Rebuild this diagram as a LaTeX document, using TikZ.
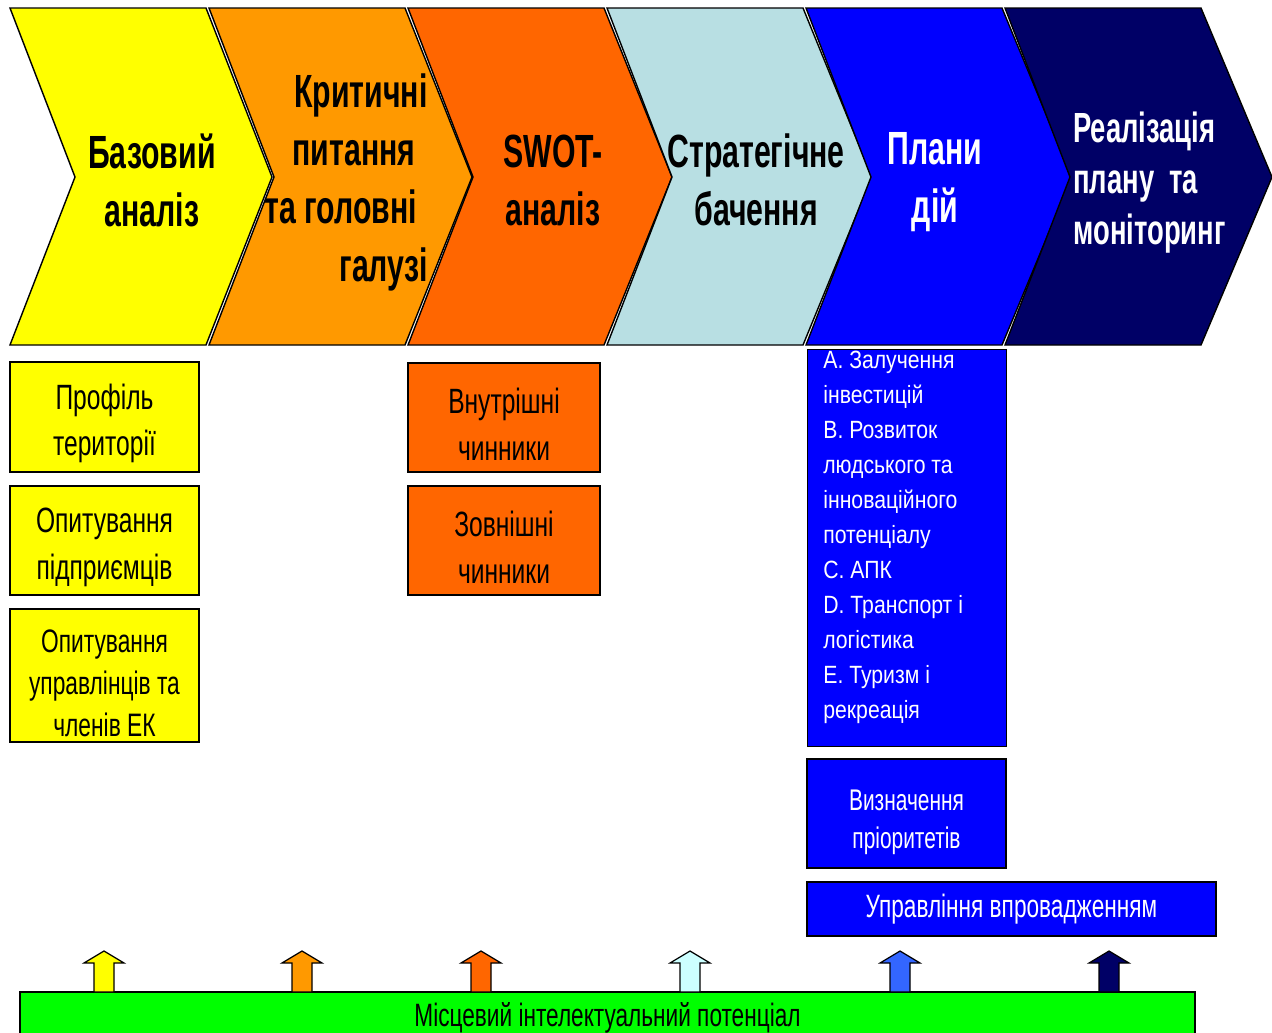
\documentclass[tikz,border=0pt]{standalone}
\usepackage{fontspec}
\setmainfont{Liberation Sans}[FakeStretch=0.7]
\newfontfamily\headfont{Liberation Sans}[FakeStretch=0.65]
\newfontfamily\listfont{Liberation Sans}[FakeStretch=0.85]
\usepackage{tikz}
\usepackage{xcolor}
\definecolor{cyellow}{HTML}{FFFF00}
\definecolor{corange}{HTML}{FF9900}
\definecolor{cred}{HTML}{FF6600}
\definecolor{cpale}{HTML}{B8DFE3}
\definecolor{cblue}{HTML}{0000FF}
\definecolor{cnavy}{HTML}{000066}
\definecolor{cgreen}{HTML}{00FF00}
\definecolor{cicy}{HTML}{CCFFFF}
\definecolor{csky}{HTML}{3366FF}
\newcommand\topgap{\rule{0pt}{22pt}}

\tikzset{
  chev/.style={draw=black, line width=0.8pt},
  head/.style={font=\headfont\bfseries\fontsize{26.5}{33}\selectfont, inner sep=0},
  box/.style={draw=black, line width=0.8pt, inner sep=0, align=center,
    font=\fontsize{20}{26.5}\selectfont},
  upar/.style={draw=black, line width=0.7pt},
}

\begin{document}
\begin{tikzpicture}[x=0.02cm, y=-0.02cm]
      \clip (0,0) rectangle (1272,1032);
      % chevrons
      \foreach \i/\c in {0/cyellow, 1/corange, 2/cred, 3/cpale, 4/cblue, 5/cnavy} {
        \draw[chev, fill=\c] ({10+199*\i}, 8) -- ++(196, 0) -- ++({66+\i}, 169)
          -- ++({-66-\i}, 168) -- ++(-196, 0) -- ++(65, -168) -- cycle;
      }
      \node[head, align=center] (base) at (152, 180) {Базовий\\аналіз};
      \node[head, align=right, anchor=east] (crit) at (428, 182)
        {Критичні\\питання\makebox[7pt]{}\\та головні\makebox[6pt]{}\\галузі};
      \node[head, align=center] (swot) at (553, 180) {SWOT-\\аналіз};
      \node[head, align=center] (vision) at (756, 180) {Стратегічне\\бачення};
      \node[head, align=center, text=white] (plans) at (935, 182) {Плани\\дій};
      \node[head, align=left, anchor=west, text=white,
        font=\headfont\bfseries\fontsize{24}{29}\selectfont] (impl) at (1073, 183)
        {Реалізація\\плану~~та\\моніторинг};
      % boxes under the chevrons
      \node[box, fill=cyellow, minimum width=3.78cm, minimum height=2.2cm] (prof)
        at (104.5, 417) {\topgap Профіль\\території};
      \node[box, fill=cyellow, minimum width=3.78cm, minimum height=2.18cm] (surv)
        at (104.5, 540.5) {\topgap Опитування\\підприємців};
      \node[box, fill=cyellow, minimum width=3.78cm, minimum height=2.66cm,
        font=\fontsize{18.5}{24}\selectfont] (mgrs)
        at (104.5, 675.5) {\topgap Опитування\\управлінців та\\членів ЕК};
      \node[box, fill=cred, minimum width=3.84cm, minimum height=2.18cm] (inner)
        at (504, 417.5) {\topgap Внутрішні\\чинники};
      \node[box, fill=cred, minimum width=3.84cm, minimum height=2.18cm] (outer)
        at (504, 540.5) {\topgap Зовнішні\\чинники};
      \node[box, fill=cblue, anchor=north west, minimum width=3.98cm,
        minimum height=7.94cm] (list) at (807, 349) {};
      \node[anchor=north west, align=left, text=white, inner sep=0,
        font=\listfont\fontsize{14.2}{19.9}\selectfont] (listtxt)
        at (823, 351) {A. Залучення\\інвестицій\\B. Розвиток\\людського та\\
          інноваційного\\потенціалу\\C. АПК\\D. Транспорт і\\логістика\\
          E. Туризм і\\рекреація};
      \node[box, fill=cblue, text=white, minimum width=3.98cm, minimum height=2.18cm,
        font=\fontsize{17}{21.6}\selectfont] (prio)
        at (906.5, 813.5) {\topgap Визначення\\пріоритетів};
      \node[box, fill=cblue, text=white, minimum width=8.18cm, minimum height=1.08cm,
        font=\fontsize{18.4}{22}\selectfont] (manage)
        at (1011.5, 909) {Управління впровадженням};
      % base bar and arrows
      \node[box, fill=cgreen, minimum width=23.5cm, minimum height=1.04cm,
        font=\fontsize{18.4}{22}\selectfont] (potential)
        at (607.5, 1018) {Місцевий інтелектуальний потенціал};
      \foreach \x/\c in {104/cyellow, 302/corange, 481/cred, 690/cicy, 900/csky, 1109/cnavy} {
        \draw[upar, fill=\c] ({\x-10}, 992) -- ({\x-10}, 963) -- ({\x-20}, 963)
          -- (\x, 951) -- ({\x+20}, 963) -- ({\x+10}, 963) -- ({\x+10}, 992) -- cycle;
      }
    \end{tikzpicture}
\end{document}
